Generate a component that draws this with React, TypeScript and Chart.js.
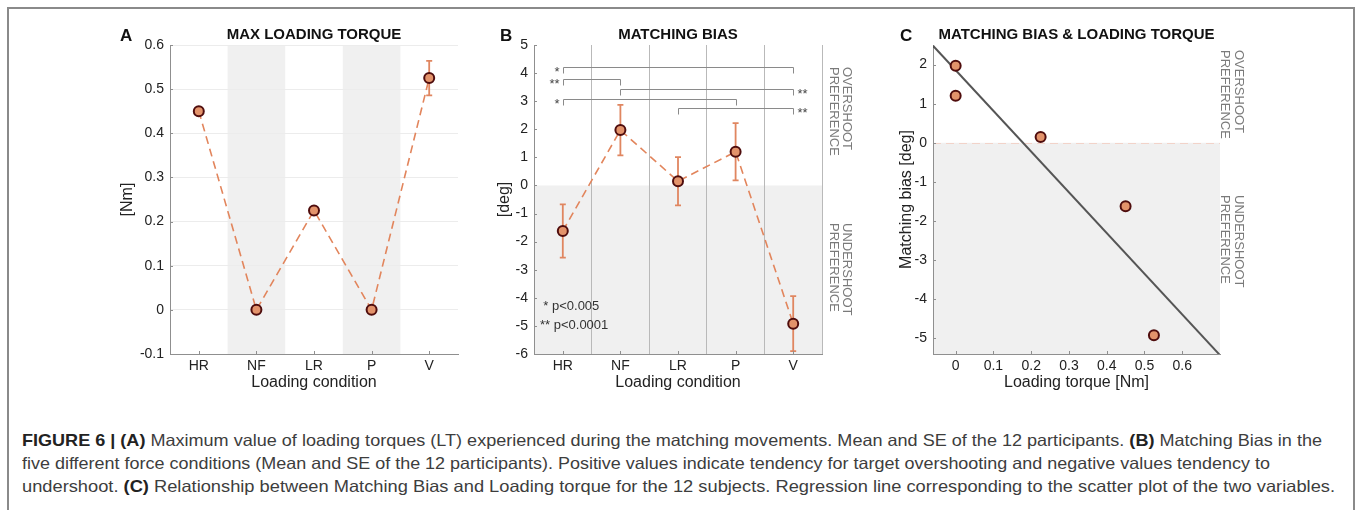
import React, { useEffect, useLayoutEffect, useRef } from "react";
import { Chart, registerables } from "chart.js";

Chart.register(...registerables);

// ---------------- data ----------------
const conditions = ["HR", "NF", "LR", "P", "V"];
const torqueMean = [0.45, 0, 0.225, 0, 0.525];
const torqueSE = [0, 0, 0, 0, 0.039];
const torqueTicks = [-0.1, 0, 0.1, 0.2, 0.3, 0.4, 0.5, 0.6];
const shadedConditions = ["NF", "P"];

const biasMean = [-1.62, 1.97, 0.15, 1.2, -4.92];
const biasSE = [0.95, 0.9, 0.86, 1.02, 0.98];
const biasTicks = [-6, -5, -4, -3, -2, -1, 0, 1, 2, 3, 4, 5];

const bracketFrom = ["HR", "HR", "NF", "HR", "LR"];
const bracketTo = ["V", "NF", "V", "P", "V"];
const bracketLevel = [4.23, 3.79, 3.43, 3.09, 2.75];
const bracketStars = ["*", "**", "**", "*", "**"];
const bracketSide = ["left", "left", "right", "left", "right"];
const pValueNotes = ["* p<0.005", "** p<0.0001"];

const scatterTorque = [0, 0, 0.225, 0.45, 0.525];
const scatterBias = [1.97, 1.2, 0.15, -1.62, -4.92];
const regressionTorque = [-0.06, 0.7];
const regressionBias = [2.48, -5.43];
const torqueAxisTicks = [0, 0.1, 0.2, 0.3, 0.4, 0.5, 0.6];
const biasAxisTicks = [-5, -4, -3, -2, -1, 0, 1, 2];

const overshootLabel = ["OVERSHOOT", "PREFERENCE"];
const undershootLabel = ["UNDERSHOOT", "PREFERENCE"];

const captionLines: [string, boolean][][] = [
  [
    ["FIGURE 6 | (A)", true],
    [" Maximum value of loading torques (LT) experienced during the matching movements. Mean and SE of the 12 participants. ", false],
    ["(B)", true],
    [" Matching Bias in the", false],
  ],
  [
    ["five different force conditions (Mean and SE of the 12 participants). Positive values indicate tendency for target overshooting and negative values tendency to", false],
  ],
  [
    ["undershoot. ", false],
    ["(C)", true],
    [" Relationship between Matching Bias and Loading torque for the 12 subjects. Regression line corresponding to the scatter plot of the two variables.", false],
  ],
];
const captionWidths = [1300, 1248, 1313];

// ---------------- styles ----------------
const FONT = "'Liberation Sans', Arial, Helvetica, sans-serif";
const AXIS = "#8f8f8f";
const TICK = "#222222";
const SHADE = "#f0f0f0";
const LINE = "#e2855c";
const FILL = "#e3936b";
const EDGE = "#4f0d0d";
const ERR = "#e08660";
const SIDE = "#7a7a7a";

const tickFont = { family: FONT, size: 14 };
const titleFont = { family: FONT, size: 16 };

function drawHeader(chart: any, letter: string, title: string) {
  const { ctx, chartArea } = chart;
  ctx.save();
  ctx.fillStyle = "#111";
  ctx.textBaseline = "alphabetic";
  ctx.textAlign = "left";
  ctx.font = `bold 17px ${FONT}`;
  ctx.fillText(letter, 20, 26);
  ctx.font = `bold 15px ${FONT}`;
  ctx.textAlign = "center";
  ctx.fillText(title, (chartArea.left + chartArea.right) / 2, 24);
  ctx.restore();
}

function drawInwardTicks(chart: any) {
  const { ctx, chartArea, scales } = chart;
  ctx.save();
  ctx.strokeStyle = AXIS;
  ctx.lineWidth = 1;
  scales.x.ticks.forEach((_t: any, i: number) => {
    const x = Math.round(scales.x.getPixelForTick(i)) + 0.5;
    ctx.beginPath();
    ctx.moveTo(x, chartArea.bottom);
    ctx.lineTo(x, chartArea.bottom - 3);
    ctx.stroke();
  });
  scales.y.ticks.forEach((_t: any, i: number) => {
    const y = Math.round(scales.y.getPixelForTick(i)) + 0.5;
    ctx.beginPath();
    ctx.moveTo(chartArea.left, y);
    ctx.lineTo(chartArea.left + 3, y);
    ctx.stroke();
  });
  ctx.restore();
}

function drawErrorBars(chart: any, means: number[], ses: number[]) {
  const { ctx, scales } = chart;
  const { x, y } = scales;
  ctx.save();
  ctx.strokeStyle = ERR;
  ctx.lineWidth = 1.8;
  means.forEach((m, i) => {
    if (!ses[i]) return;
    const px = x.getPixelForValue(i);
    const top = y.getPixelForValue(m + ses[i]);
    const bot = y.getPixelForValue(m - ses[i]);
    ctx.beginPath();
    ctx.moveTo(px, top);
    ctx.lineTo(px, bot);
    ctx.moveTo(px - 3, top);
    ctx.lineTo(px + 3, top);
    ctx.moveTo(px - 3, bot);
    ctx.lineTo(px + 3, bot);
    ctx.stroke();
  });
  ctx.restore();
}

function drawSideLabel(ctx: any, x: number, y: number, lines: string[]) {
  ctx.save();
  ctx.translate(x, y);
  ctx.rotate(Math.PI / 2);
  ctx.fillStyle = SIDE;
  ctx.font = `13px ${FONT}`;
  ctx.textAlign = "left";
  ctx.textBaseline = "middle";
  lines.forEach((l, i) => ctx.fillText(l, 0, i * 13.3));
  ctx.restore();
}

function shadeBelowZero(chart: any) {
  const { ctx, chartArea, scales } = chart;
  const y0 = scales.y.getPixelForValue(0);
  ctx.save();
  ctx.fillStyle = SHADE;
  ctx.fillRect(chartArea.left, y0, chartArea.right - chartArea.left, chartArea.bottom - y0);
  ctx.restore();
}

const markerStyle = {
  pointRadius: 5,
  pointBorderWidth: 2,
  pointBackgroundColor: FILL,
  pointBorderColor: EDGE,
  pointStyle: "circle",
};

function categoryX(title: string) {
  return {
    type: "category",
    offset: true,
    grid: { display: false, drawTicks: false },
    border: { display: true, color: AXIS, width: 1 },
    ticks: { color: TICK, font: tickFont, padding: 4, maxRotation: 0, autoSkip: false },
    title: { display: true, text: title, color: TICK, font: titleFont, padding: { top: 0, bottom: 8 } },
    afterFit: (s: any) => {
      s.height = 46;
    },
  };
}

// ---------------- chart configs ----------------
function configA() {
  const plugin = {
    id: "panelA",
    beforeDraw(chart: any) {
      const { ctx, chartArea, scales } = chart;
      const x = scales.x;
      const half = (x.getPixelForValue(1) - x.getPixelForValue(0)) / 2;
      ctx.save();
      ctx.fillStyle = SHADE;
      shadedConditions.forEach((c) => {
        const px = x.getPixelForValue(conditions.indexOf(c));
        ctx.fillRect(px - half, chartArea.top, 2 * half, chartArea.bottom - chartArea.top);
      });
      ctx.restore();
    },
    beforeDatasetsDraw(chart: any) {
      drawErrorBars(chart, torqueMean, torqueSE);
    },
    afterDraw(chart: any) {
      drawInwardTicks(chart);
      drawHeader(chart, "A", "MAX LOADING TORQUE");
    },
  };
  return {
    type: "line",
    data: {
      labels: conditions,
      datasets: [
        {
          data: torqueMean,
          borderColor: LINE,
          borderWidth: 1.6,
          borderDash: [8, 5],
          fill: false,
          tension: 0,
          ...markerStyle,
        },
      ],
    },
    options: {
      animation: false,
      responsive: false,
      events: [],
      layout: { padding: { left: 0, top: 30, right: 12, bottom: 0 } },
      plugins: { legend: { display: false }, tooltip: { enabled: false } },
      scales: {
        x: categoryX("Loading condition"),
        y: {
          type: "linear",
          min: -0.1,
          max: 0.6,
          afterBuildTicks: (s: any) => {
            s.ticks = torqueTicks.map((v) => ({ value: v }));
          },
          grid: { color: "#ececec", drawTicks: false },
          border: { display: true, color: AXIS, width: 1 },
          ticks: { color: TICK, font: tickFont, padding: 6, callback: (v: any) => String(v) },
          title: { display: true, text: "[Nm]", color: TICK, font: titleFont, padding: { top: 18.4, bottom: 0 } },
          afterFit: (s: any) => {
            s.width = 70;
          },
        },
      },
    },
    plugins: [plugin],
  };
}

function configB() {
  const plugin = {
    id: "panelB",
    beforeDraw(chart: any) {
      shadeBelowZero(chart);
    },
    beforeDatasetsDraw(chart: any) {
      const { ctx, scales } = chart;
      const { x, y } = scales;
      ctx.save();
      ctx.strokeStyle = "#8a8a8a";
      ctx.lineWidth = 1;
      ctx.fillStyle = "#444";
      ctx.font = `13px ${FONT}`;
      ctx.textBaseline = "middle";
      bracketFrom.forEach((f, k) => {
        const x1 = Math.round(x.getPixelForValue(conditions.indexOf(f))) + 0.5;
        const x2 = Math.round(x.getPixelForValue(conditions.indexOf(bracketTo[k]))) + 0.5;
        const yl = Math.round(y.getPixelForValue(bracketLevel[k])) + 0.5;
        const yd = Math.round(y.getPixelForValue(bracketLevel[k] - 0.22)) + 0.5;
        ctx.beginPath();
        ctx.moveTo(x1, yd);
        ctx.lineTo(x1, yl);
        ctx.lineTo(x2, yl);
        ctx.lineTo(x2, yd);
        ctx.stroke();
        if (bracketSide[k] === "left") {
          ctx.textAlign = "right";
          ctx.fillText(bracketStars[k], x1 - 4, yl + 5);
        } else {
          ctx.textAlign = "left";
          ctx.fillText(bracketStars[k], x2 + 4, yl + 5);
        }
      });
      ctx.restore();
      drawErrorBars(chart, biasMean, biasSE);
    },
    afterDraw(chart: any) {
      const { ctx, chartArea } = chart;
      drawInwardTicks(chart);
      drawHeader(chart, "B", "MATCHING BIAS");
      ctx.save();
      ctx.fillStyle = "#333";
      ctx.font = `13px ${FONT}`;
      ctx.textAlign = "left";
      ctx.textBaseline = "middle";
      ctx.fillText(pValueNotes[0], chartArea.left + 9.3, chartArea.top + 261);
      ctx.fillText(pValueNotes[1], chartArea.left + 6, chartArea.top + 280);
      ctx.restore();
      drawSideLabel(ctx, chartArea.right + 24.7, chartArea.top + 22, overshootLabel);
      drawSideLabel(ctx, chartArea.right + 24.7, chartArea.top + 178, undershootLabel);
    },
  };
  const x = categoryX("Loading condition");
  (x as any).grid = { display: true, offset: true, drawTicks: false, color: "#b9b9b9", lineWidth: 1 };
  return {
    type: "line",
    data: {
      labels: conditions,
      datasets: [
        {
          data: biasMean,
          borderColor: LINE,
          borderWidth: 1.6,
          borderDash: [8, 5],
          fill: false,
          tension: 0,
          ...markerStyle,
        },
      ],
    },
    options: {
      animation: false,
      responsive: false,
      events: [],
      layout: { padding: { left: 0, top: 30, right: 48, bottom: 0 } },
      plugins: { legend: { display: false }, tooltip: { enabled: false } },
      scales: {
        x,
        y: {
          type: "linear",
          min: -6,
          max: 5,
          afterBuildTicks: (s: any) => {
            s.ticks = biasTicks.map((v) => ({ value: v }));
          },
          grid: { display: false, drawTicks: false },
          border: { display: true, color: AXIS, width: 1 },
          ticks: { color: TICK, font: tickFont, padding: 6, callback: (v: any) => String(v) },
          title: { display: true, text: "[deg]", color: TICK, font: titleFont, padding: { top: 15.4, bottom: 0 } },
          afterFit: (s: any) => {
            s.width = 54;
          },
        },
      },
    },
    plugins: [plugin],
  };
}

function configC() {
  const plugin = {
    id: "panelC",
    beforeDraw(chart: any) {
      shadeBelowZero(chart);
    },
    beforeDatasetsDraw(chart: any) {
      const { ctx, chartArea, scales } = chart;
      const y0 = Math.round(scales.y.getPixelForValue(0)) + 0.5;
      ctx.save();
      ctx.strokeStyle = "#f2d3c9";
      ctx.lineWidth = 1;
      ctx.setLineDash([8, 5]);
      ctx.beginPath();
      ctx.moveTo(chartArea.left, y0);
      ctx.lineTo(chartArea.right, y0);
      ctx.stroke();
      ctx.restore();
    },
    afterDraw(chart: any) {
      const { ctx, chartArea } = chart;
      drawInwardTicks(chart);
      drawHeader(chart, "C", "MATCHING BIAS & LOADING TORQUE");
      drawSideLabel(ctx, chartArea.right + 18.3, chartArea.top + 5, overshootLabel);
      drawSideLabel(ctx, chartArea.right + 18.3, chartArea.top + 150, undershootLabel);
    },
  };
  return {
    type: "scatter",
    data: {
      datasets: [
        {
          data: scatterTorque.map((t, i) => ({ x: t, y: scatterBias[i] })),
          showLine: false,
          ...markerStyle,
        },
        {
          data: regressionTorque.map((t, i) => ({ x: t, y: regressionBias[i] })),
          showLine: true,
          borderColor: "#555555",
          borderWidth: 2,
          pointRadius: 0,
          fill: false,
        },
      ],
    },
    options: {
      animation: false,
      responsive: false,
      events: [],
      layout: { padding: { left: 0, top: 30, right: 35, bottom: 0 } },
      plugins: { legend: { display: false }, tooltip: { enabled: false } },
      scales: {
        x: {
          type: "linear",
          min: -0.06,
          max: 0.7,
          afterBuildTicks: (s: any) => {
            s.ticks = torqueAxisTicks.map((v) => ({ value: v }));
          },
          grid: { display: false, drawTicks: false },
          border: { display: true, color: AXIS, width: 1 },
          ticks: { color: TICK, font: tickFont, padding: 4, maxRotation: 0, callback: (v: any) => String(v) },
          title: { display: true, text: "Loading torque [Nm]", color: TICK, font: titleFont, padding: { top: 0, bottom: 8 } },
          afterFit: (s: any) => {
            s.height = 46;
          },
        },
        y: {
          type: "linear",
          min: -5.4,
          max: 2.5,
          afterBuildTicks: (s: any) => {
            s.ticks = biasAxisTicks.map((v) => ({ value: v }));
          },
          grid: { display: false, drawTicks: false },
          border: { display: true, color: AXIS, width: 1 },
          ticks: { color: TICK, font: tickFont, padding: 6, callback: (v: any) => String(v) },
          title: { display: true, text: "Matching bias [deg]", color: TICK, font: titleFont, padding: { top: 17.4, bottom: 0 } },
          afterFit: (s: any) => {
            s.width = 53;
          },
        },
      },
    },
    plugins: [plugin],
  };
}

function ChartCanvas({ left, top, width, height, make }: any) {
  const ref = useRef<HTMLCanvasElement>(null);
  useEffect(() => {
    const chart = new Chart(ref.current as HTMLCanvasElement, make() as any);
    return () => chart.destroy();
  }, []);
  return (
    <canvas
      ref={ref}
      width={width}
      height={height}
      style={{ position: "absolute", left, top, width, height }}
    />
  );
}

function CaptionLine({ segments, top, width }: any) {
  const ref = useRef<HTMLDivElement>(null);
  useLayoutEffect(() => {
    const el = ref.current;
    if (!el) return;
    el.style.transform = "none";
    const w = el.getBoundingClientRect().width;
    if (w > 0) el.style.transform = `scaleX(${width / w})`;
  }, []);
  return (
    <div
      ref={ref}
      style={{
        position: "absolute",
        left: 22,
        top,
        whiteSpace: "nowrap",
        transformOrigin: "0 0",
        fontFamily: FONT,
        fontSize: 16.5,
        lineHeight: "20px",
        color: "#3d3d3d",
      }}
    >
      {segments.map(([t, b]: [string, boolean], i: number) =>
        b ? (
          <b key={i} style={{ color: "#222" }}>{t}</b>
        ) : (
          <span key={i}>{t}</span>
        )
      )}
    </div>
  );
}

export default function App() {
  return (
    <div
      style={{
        position: "absolute",
        left: 0,
        top: 0,
        width: 1357,
        height: 510,
        overflow: "hidden",
        background: "#fff",
      }}
    >
      <div
        style={{
          position: "absolute",
          left: 7,
          top: 7,
          width: 1344,
          height: 540,
          border: "2px solid #8a8a8a",
          boxSizing: "content-box",
        }}
      />
      <ChartCanvas left={100} top={15} width={370} height={385} make={configA} />
      <ChartCanvas left={480} top={15} width={390} height={385} make={configB} />
      <ChartCanvas left={880} top={15} width={375} height={385} make={configC} />
      {captionLines.map((seg, i) => (
        <CaptionLine key={i} segments={seg} top={430 + i * 23} width={captionWidths[i]} />
      ))}
    </div>
  );
}
